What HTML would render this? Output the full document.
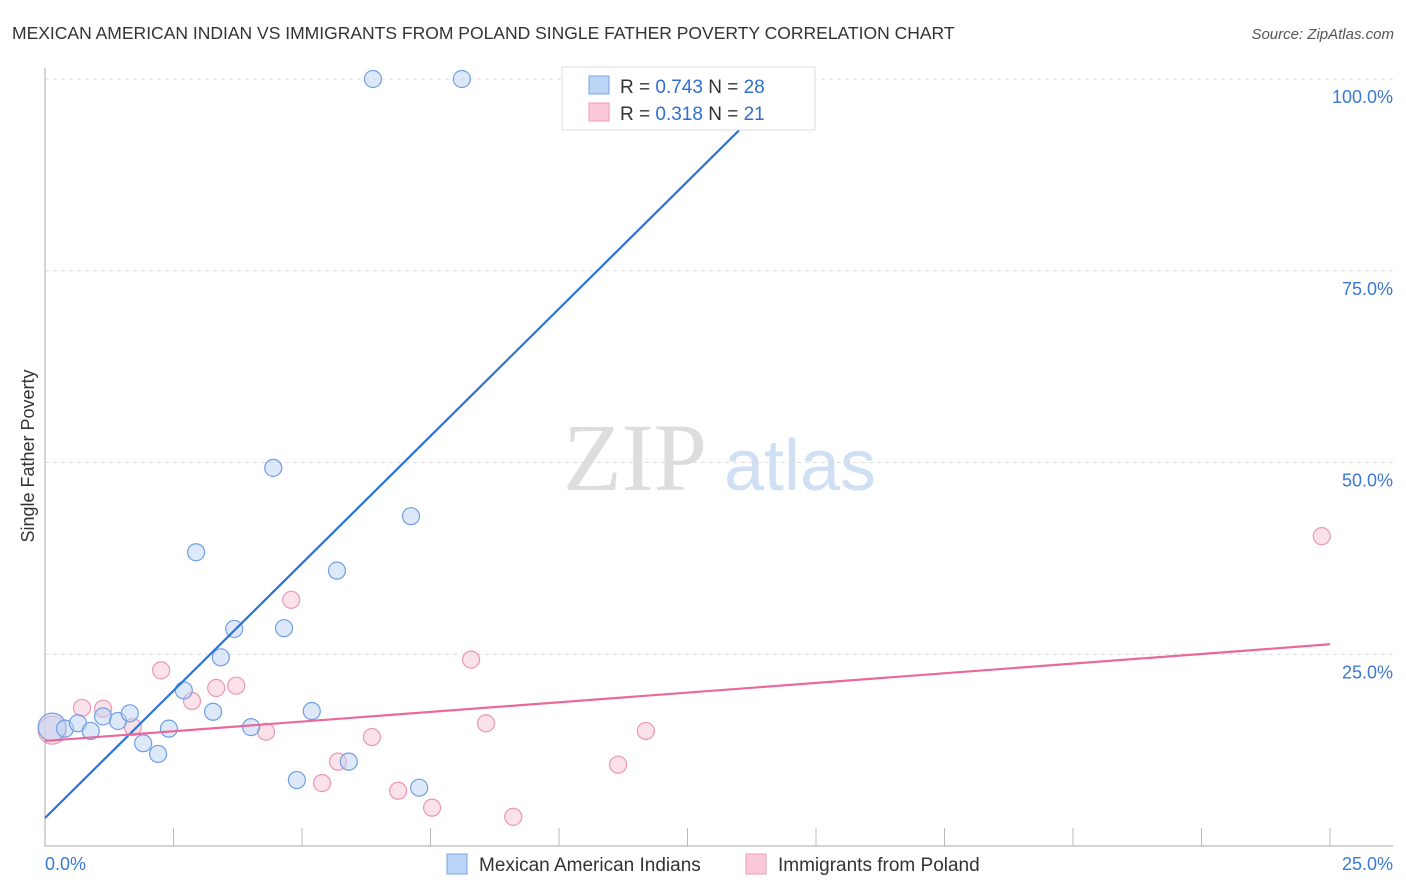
<!DOCTYPE html>
<html><head><meta charset="utf-8"><style>
body{margin:0;background:#fff;font-family:"Liberation Sans",sans-serif;}
svg{display:block}
</style></head><body>
<svg id="c" width="1406" height="892">
<text x="12" y="39" font-size="17.5" fill="#333">MEXICAN AMERICAN INDIAN VS IMMIGRANTS FROM POLAND SINGLE FATHER POVERTY CORRELATION CHART</text>
<text x="1394" y="39" font-size="15" fill="#555" font-style="italic" text-anchor="end">Source: ZipAtlas.com</text>
<text x="635" y="490" font-size="96" fill="#ddd" font-family="Liberation Serif,serif" text-anchor="middle">ZIP</text>
<text x="800" y="490" font-size="72" fill="#cfe0f5" text-anchor="middle">atlas</text>
<text transform="translate(34,456) rotate(-90)" font-size="18" fill="#333" text-anchor="middle">Single Father Poverty</text>
<g id="grid"></g><g id="pts"></g><g id="lines"></g>
<g>
<rect x="562" y="67" width="253" height="63" fill="#fff" stroke="#ddd"/>
<rect x="589" y="76" width="20" height="18" fill="#bcd4f5" stroke="#7aa6e6"/>
<rect x="589" y="103" width="20" height="18" fill="#f9c9d8" stroke="#ee9db5"/>
<text x="620" y="93" font-size="19" fill="#333">R = <tspan fill="#2f6fd1">0.743</tspan>   N = <tspan fill="#2f6fd1">28</tspan></text>
<text x="620" y="120" font-size="19" fill="#333">R =  <tspan fill="#2f6fd1">0.318</tspan>   N =  <tspan fill="#2f6fd1">21</tspan></text>
</g>
<g>
<rect x="447" y="854" width="20" height="20" fill="#bcd4f5" stroke="#7aa6e6"/>
<text x="479" y="871" font-size="19" fill="#333">Mexican American Indians</text>
<rect x="746" y="854" width="20" height="20" fill="#f9c9d8" stroke="#ee9db5"/>
<text x="778" y="871" font-size="19" fill="#333">Immigrants from Poland</text>
</g>
</svg>
<script>
const yTicks=[25,50,75,100];
const xTickLabels=["0.0%","25.0%"];
const blueX=[0.14,0.39,0.64,0.89,1.13,1.42,1.65,1.91,2.20,2.41,2.70,2.94,3.27,3.42,3.68,4.01,4.44,4.65,4.90,5.19,5.68,5.91,6.38,7.12,7.28,8.11,10.60,14.47];
const blueY=[15.5,15.3,16.0,15.0,16.9,16.3,17.3,13.4,12.0,15.3,20.3,38.3,17.5,24.6,28.3,15.5,49.3,28.4,8.6,17.6,35.9,11.0,100,43.0,7.6,100,100,100];
const pinkX=[0.14,0.72,1.13,1.71,2.26,2.86,3.33,3.72,4.30,4.79,5.39,5.70,6.36,6.87,7.53,8.29,8.58,9.11,11.15,11.69,24.84];
const pinkY=[15.1,18.0,17.9,15.5,22.9,18.9,20.6,20.9,14.9,32.1,8.2,11.0,14.2,7.2,5.0,24.3,16.0,3.8,10.6,15.0,40.4];
const blueLine=[3.65,6.64];
const pinkLine=[13.7,0.504];
const NS="http://www.w3.org/2000/svg";
const X=v=>45+v/25*1285, Y=v=>846-v/100*767;
function mk(t,a,p){const e=document.createElementNS(NS,t);for(const k in a)e.setAttribute(k,a[k]);p.appendChild(e);return e;}
const g=document.getElementById('grid');
yTicks.forEach(t=>{
 const l=mk('line',{x1:45,x2:1393,y1:Y(t),y2:Y(t),stroke:'#ddd','stroke-dasharray':'4,4'},g);
 
 
 const tx=mk('text',{x:1393,y:Y(t)+24,'font-size':18,fill:'#3a78d4','text-anchor':'end'},g);tx.textContent=t.toFixed(1)+'%';
 
 
});
const ax=mk('path',{d:'M45,68V846H1393',stroke:'#aaa',fill:'none'},g);


for(let i=1;i<=10;i++){const t=mk('line',{x1:X(i*2.5),x2:X(i*2.5),y1:828,y2:846,stroke:'#bbb'},g);
 
 }
[[0,'start',45],[25,'end',1393]].forEach((d,i)=>{const t=mk('text',{x:d[2],y:870,'font-size':18,fill:'#3a78d4','text-anchor':d[1]},g);t.textContent=xTickLabels[i];
 
 });
const p=document.getElementById('pts');
function pts(xs,ys,fill,st,nm){xs.forEach((x,i)=>{const r=i==0?14:8.5;
 const c=mk('circle',{cx:X(x),cy:Y(ys[i]),r:r,fill:fill,'fill-opacity':i==0?0.55:0.5,stroke:st,'stroke-width':1.2},p);
 
 });}
pts(pinkX,pinkY,'#f7c3d3','#ec97b2','point-poland');
pts(blueX,blueY,'#bcd4f5','#6f9fe3','point-mexican-american-indian');
const L=document.getElementById('lines');
const bx2=(100-blueLine[0])/blueLine[1];
const b=mk('line',{x1:X(0),y1:Y(blueLine[0]),x2:X(bx2),y2:Y(100),stroke:'#2a72d8','stroke-width':2.2},L);


const q=mk('line',{x1:X(0),y1:Y(pinkLine[0]),x2:X(25),y2:Y(pinkLine[0]+25*pinkLine[1]),stroke:'#e8699a','stroke-width':2.2},L);


</script>
</body></html>
